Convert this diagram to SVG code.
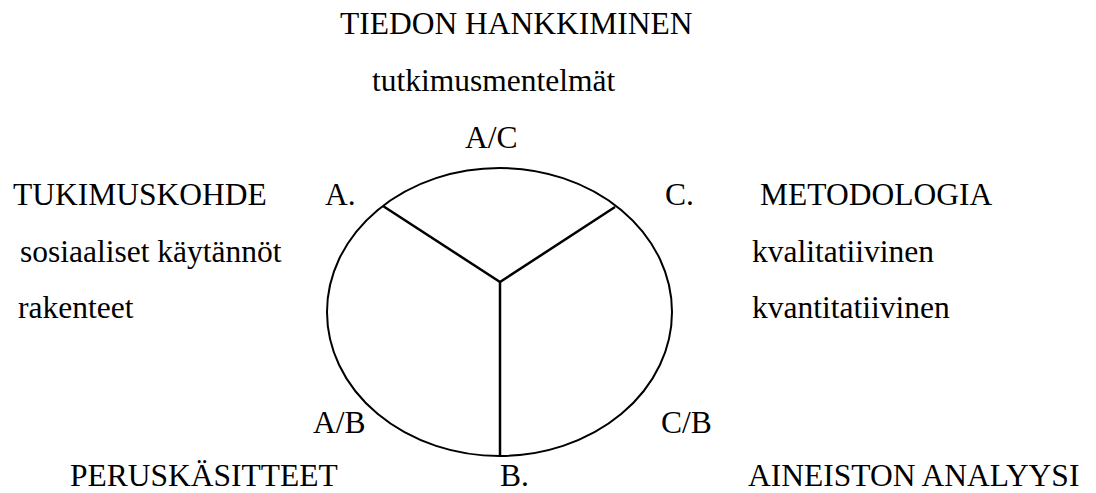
<svg xmlns="http://www.w3.org/2000/svg" width="1096" height="493" viewBox="0 0 1096 493">
  <style>
    text { font-family: "Liberation Serif", "Times New Roman", serif; font-size: 31.5px; fill: #000; }
    .shape { fill: none; stroke: #000; stroke-width: 2; }
    .divider { fill: none; stroke: #000; stroke-width: 2.5; }
  </style>
  <rect width="1096" height="493" fill="#fff"/>
  <g id="wheel">
    <ellipse class="shape" cx="499.5" cy="312" rx="172.5" ry="144"/>
  </g>
  <g id="dividers">
    <line class="divider" x1="383" y1="206" x2="500" y2="282"/>
    <line class="divider" x1="615" y1="207" x2="500" y2="282"/>
    <line class="divider" x1="500" y1="282" x2="500" y2="456"/>
  </g>
  <g id="top-label">
    <text x="340" y="34">TIEDON HANKKIMINEN</text>
    <text x="372" y="91">tutkimusmentelmät</text>
    <text x="465" y="148">A/C</text>
  </g>
  <g id="left-label">
    <text x="13" y="205">TUKIMUSKOHDE</text>
    <text x="20" y="262">sosiaaliset käytännöt</text>
    <text x="18" y="318">rakenteet</text>
    <text x="325" y="205">A.</text>
  </g>
  <g id="right-label">
    <text x="665" y="205">C.</text>
    <text x="760" y="205">METODOLOGIA</text>
    <text x="752" y="262">kvalitatiivinen</text>
    <text x="752" y="318">kvantitatiivinen</text>
  </g>
  <g id="bottom-left-label">
    <text x="313" y="433">A/B</text>
    <text x="70" y="486">PERUSKÄSITTEET</text>
  </g>
  <g id="bottom-label">
    <text x="500" y="486">B.</text>
  </g>
  <g id="bottom-right-label">
    <text x="661" y="433">C/B</text>
    <text x="748" y="486">AINEISTON ANALYYSI</text>
  </g>
</svg>
